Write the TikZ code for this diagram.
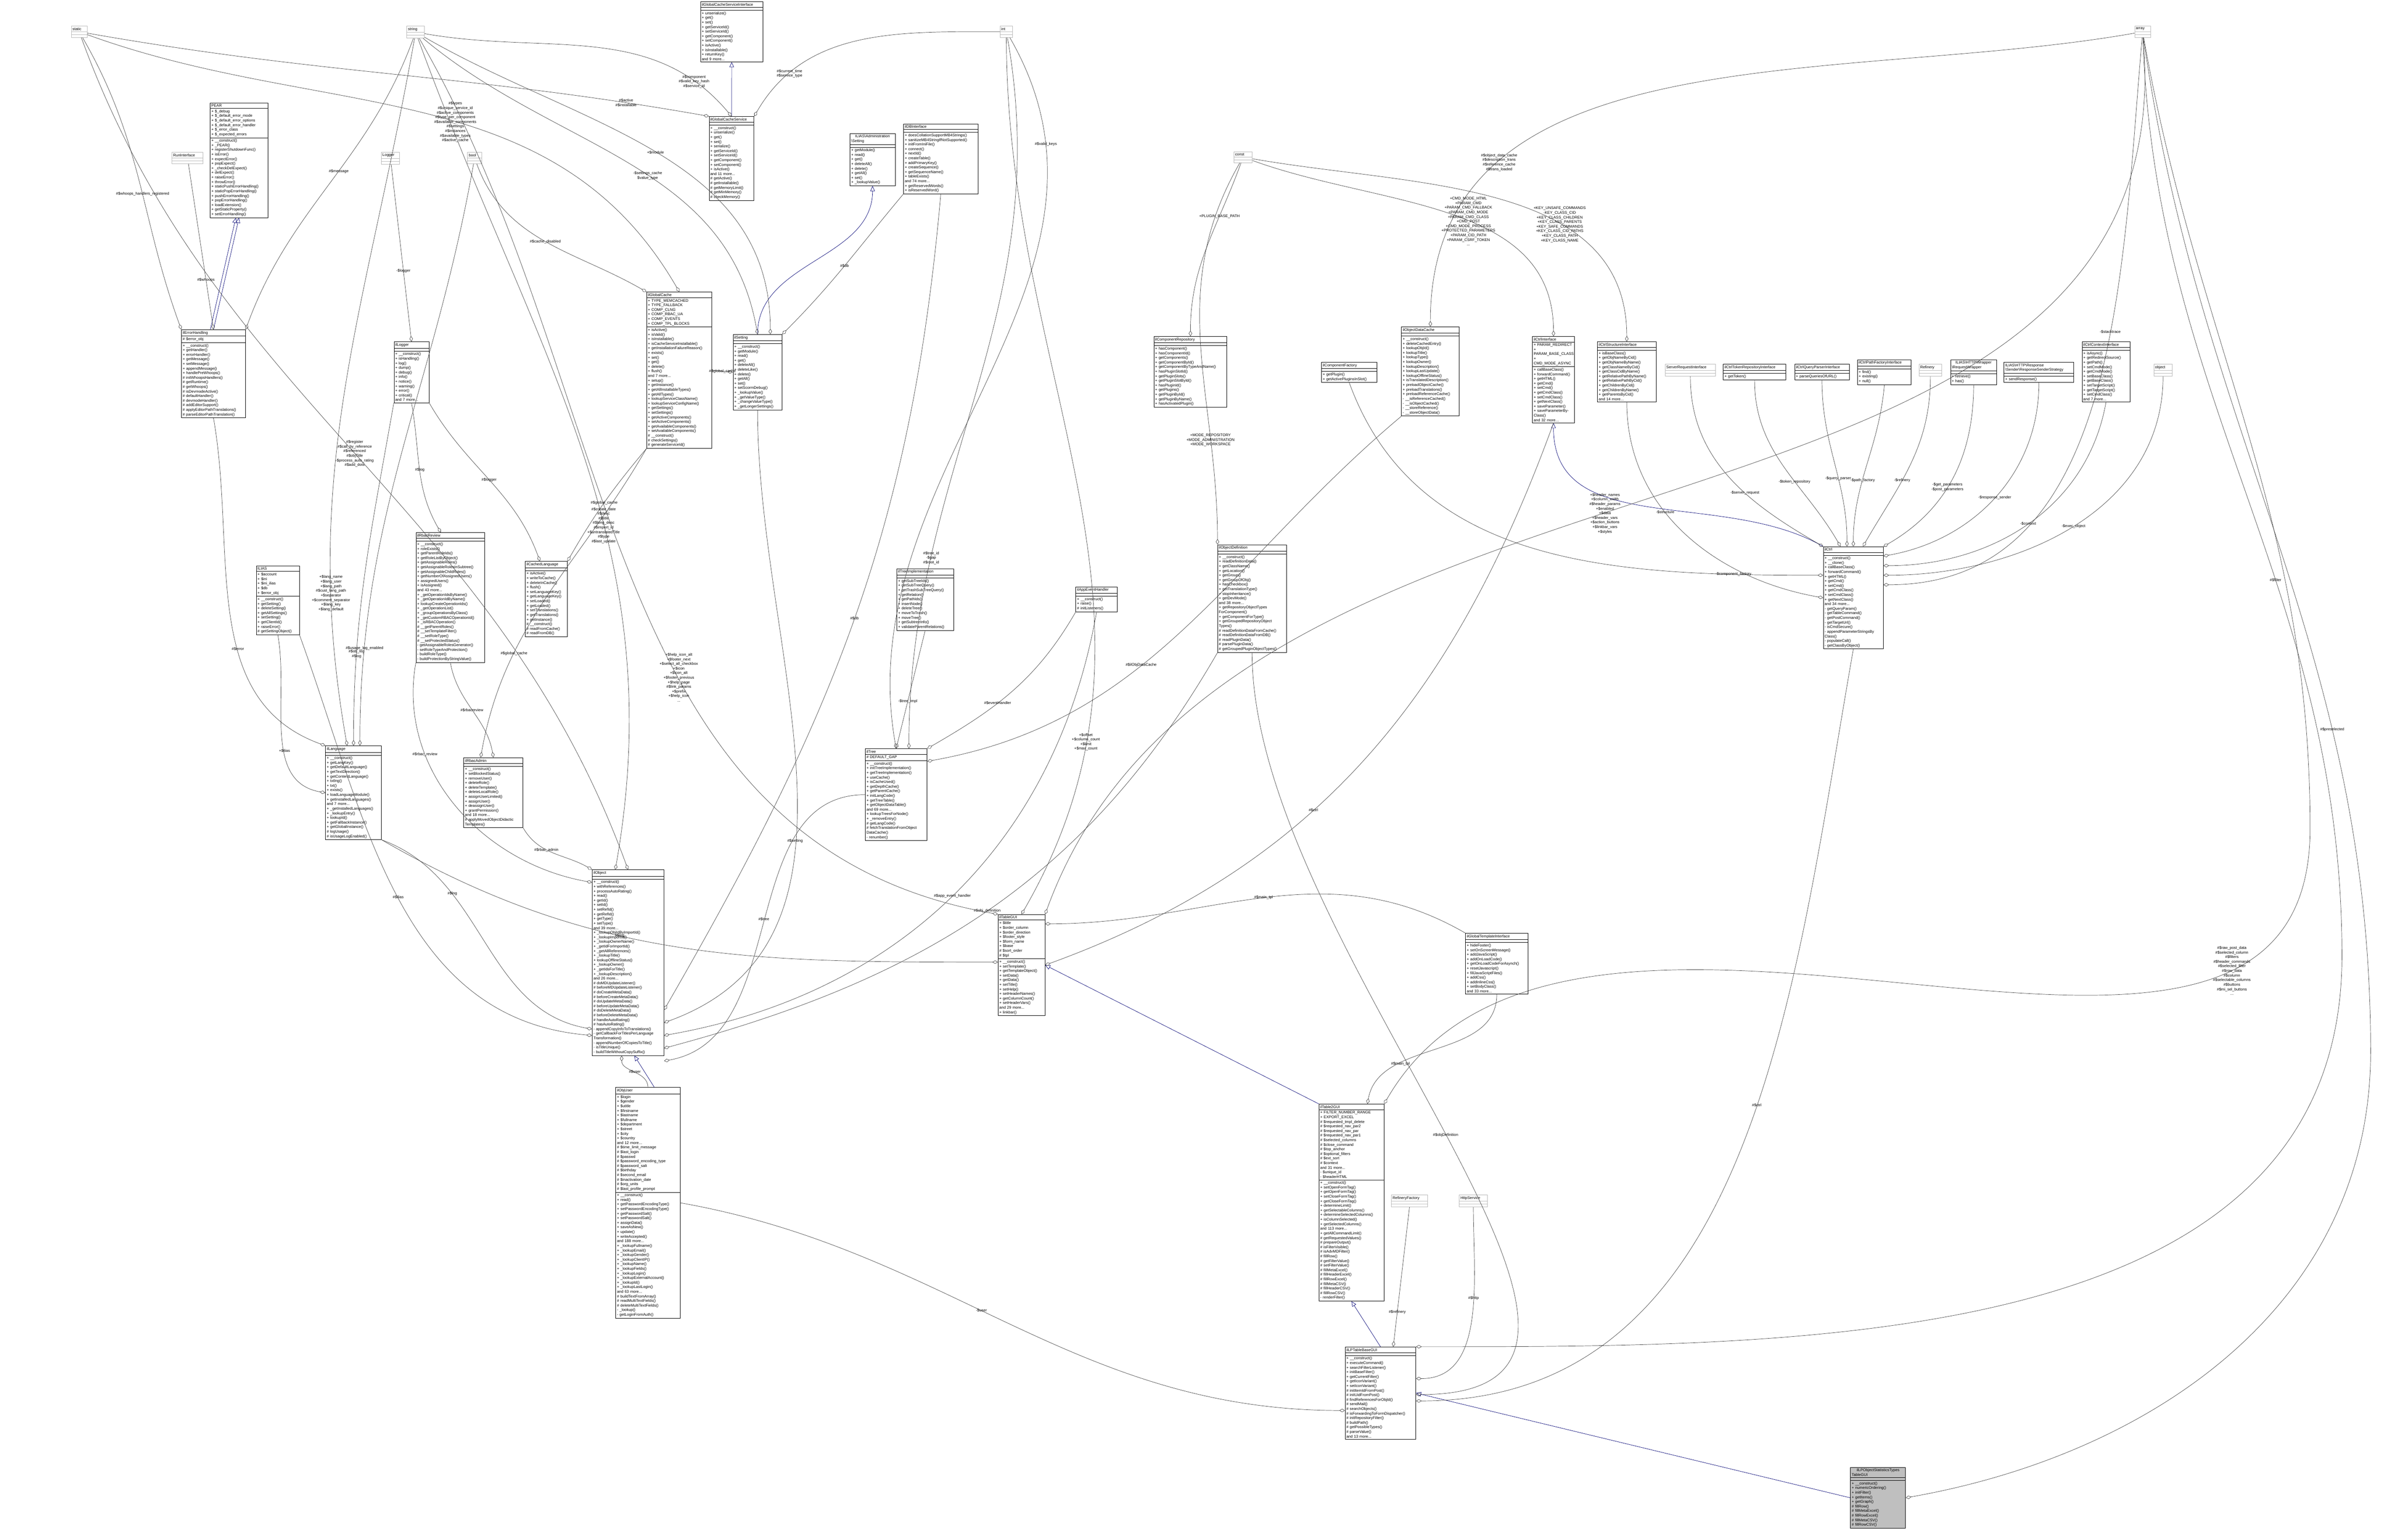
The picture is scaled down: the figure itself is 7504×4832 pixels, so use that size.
\documentclass[tikz,border=0pt]{standalone}
\usepackage{fontspec}
\setmainfont{Liberation Sans}
\usetikzlibrary{arrows.meta, shapes.multipart}

\tikzset{
  cls/.style={rectangle split, rectangle split parts=3, draw, anchor=north west,
    inner sep=1.1pt, align=left, fill=white, line width=0.35pt,
    rectangle split empty part height=5pt,
    font=\fontsize{3.4}{4.1}\selectfont},
  ext/.style={cls, draw=gray!55},
  self/.style={cls, fill=gray!50},
  agg/.style={draw=black!75, line width=0.3pt, -{Diamond[open,length=5pt,width=3pt]}},
  inh/.style={draw=blue!45!black, line width=0.3pt, -{Triangle[open,length=4.5pt,width=4pt]}},
  lbl/.style={font=\fontsize{3.4}{4.1}\selectfont, align=center, inner sep=0.5pt}
}

\begin{document}
\begin{tikzpicture}[x=0.01cm, y=-0.01cm]
\useasboundingbox (0,0) rectangle (7504,4832);

% plain types on the top row
\node[ext, text width=0.42cm] (tStatic) at (223,81)  {\centering static \nodepart{two} \nodepart{three}};
\node[ext, text width=0.48cm] (tString) at (1276,81) {\centering string \nodepart{two} \nodepart{three}};
\node[ext, text width=0.32cm] (tInt)    at (3138,81) {\centering int \nodepart{two} \nodepart{three}};
\node[ext, text width=0.42cm] (tArray)  at (6699,81) {\centering array \nodepart{two} \nodepart{three}};
\node[ext, text width=0.50cm] (tConst)  at (3872,475) {\centering const \nodepart{two} \nodepart{three}};
\node[ext, text width=0.36cm] (tBool)   at (1467,477) {\centering bool \nodepart{two} \nodepart{three}};
\node[ext, text width=0.50cm] (tLogger) at (1196,477) {\centering Logger \nodepart{two} \nodepart{three}};
\node[ext, text width=0.90cm] (tRun)    at (539,477)  {\centering RunInterface \nodepart{two} \nodepart{three}};
\node[ext, text width=0.50cm] (tObject) at (6759,1142) {\centering object \nodepart{two} \nodepart{three}};
\coordinate (viaRight) at (7250,2600);

% cache and settings
\node[cls, text width=1.88cm] (cacheIf) at (2198,5) {\centering ilGlobalCacheServiceInterface \nodepart{two} \nodepart{three}
+ unserialize()\\+ get()\\+ set()\\+ getServiceId()\\+ setServiceId()\\+ getComponent()\\+ setComponent()\\+ isActive()\\+ isInstallable()\\+ returnKey()\\and 9 more...};
\node[cls, text width=1.33cm] (cacheSvc) at (2225,365) {\centering ilGlobalCacheService \nodepart{two} \nodepart{three}
+ \_\_construct()\\+ unserialize()\\+ get()\\+ set()\\+ serialize()\\+ getServiceId()\\+ setServiceId()\\+ getComponent()\\+ setComponent()\\+ isActive()\\and 11 more...\\\# getActive()\\\# getInstallable()\\\# getMemoryLimit()\\\# getMinMemory()\\\# checkMemory()};
\node[cls, text width=1.73cm] (pear) at (659,322) {\centering PEAR \nodepart{two}
+ \$\_debug\\+ \$\_default\_error\_mode\\+ \$\_default\_error\_options\\+ \$\_default\_error\_handler\\+ \$\_error\_class\\+ \$\_expected\_errors
\nodepart{three} + \_\_construct()\\+ \_PEAR()\\+ registerShutdownFunc()\\+ isError()\\+ expectError()\\+ popExpect()\\+ \_checkDelExpect()\\+ delExpect()\\+ raiseError()\\+ throwError()\\+ staticPushErrorHandling()\\+ staticPopErrorHandling()\\+ pushErrorHandling()\\+ popErrorHandling()\\+ loadExtension()\\+ getStaticProperty()\\+ setErrorHandling()};
\node[cls, text width=1.93cm] (errHandling) at (569,1034) {\centering ilErrorHandling \nodepart{two} \# \$error\_obj
\nodepart{three} + \_\_construct()\\+ getHandler()\\+ errorHandler()\\+ getMessage()\\+ setMessage()\\+ appendMessage()\\+ handlePreWhoops()\\\# initWhoopsHandlers()\\\# getRuntime()\\\# getWhoops()\\\# isDevmodeActive()\\\# defaultHandler()\\\# devmodeHandler()\\\# addEditorSupport()\\\# applyEditorPathTranslations()\\\# parseEditorPathTranslation()};
\node[cls, text width=1.02cm] (logger) at (1236,1072) {\centering ilLogger \nodepart{two} \nodepart{three}
+ \_\_construct()\\+ isHandling()\\+ log()\\+ dump()\\+ debug()\\+ info()\\+ notice()\\+ warning()\\+ error()\\+ critical()\\and 7 more...};
\node[cls, text width=1.97cm] (globalCache) at (2029,916) {\centering ilGlobalCache \nodepart{two}
+ TYPE\_MEMCACHED\\+ TYPE\_FALLBACK\\+ COMP\_CLNG\\+ COMP\_RBAC\_UA\\+ COMP\_EVENTS\\+ COMP\_TPL\_BLOCKS
\nodepart{three} + isActive()\\+ isValid()\\+ isInstallable()\\+ isCacheServiceInstallable()\\+ getInstallationFailureReason()\\+ exists()\\+ set()\\+ get()\\+ delete()\\+ flush()\\and 7 more...\\+ setup()\\+ getInstance()\\+ getAllInstallableTypes()\\+ getAllTypes()\\+ lookupServiceClassName()\\+ lookupServiceConfigName()\\+ getSettings()\\+ setSettings()\\+ getActiveComponents()\\+ setActiveComponents()\\+ getAvailableComponents()\\+ setAvailableComponents()\\\# \_\_construct()\\\# checkSettings()\\\# generateServiceId()};
\node[cls, text width=1.46cm] (setting) at (2300,1049) {\centering ilSetting \nodepart{two} \nodepart{three}
+ \_\_construct()\\+ getModule()\\+ read()\\+ get()\\+ deleteAll()\\+ deleteLike()\\+ delete()\\+ getAll()\\+ set()\\+ setScormDebug()\\+ \_lookupValue()\\+ \_getValueType()\\+ \_changeValueType()\\+ \_getLongerSettings()};
\node[cls, text width=1.34cm] (admSetting) at (2667,418) {\centering ILIAS\textbackslash Administration\\\centering\textbackslash Setting \nodepart{two} \nodepart{three}
+ getModule()\\+ read()\\+ get()\\+ deleteAll()\\+ delete()\\+ getAll()\\+ set()\\+ \_lookupValue()};
\node[cls, text width=2.26cm] (dbIf) at (2835,388) {\centering ilDBInterface \nodepart{two} \nodepart{three}
+ doesCollationSupportMB4Strings()\\+ sanitizeMB4StringIfNotSupported()\\+ initFromIniFile()\\+ connect()\\+ nextId()\\+ createTable()\\+ addPrimaryKey()\\+ createSequence()\\+ getSequenceName()\\+ tableExists()\\and 74 more...\\+ getReservedWords()\\+ isReservedWord()};

% components and ctrl
\node[cls, text width=2.21cm] (compRepo) at (3621,1055) {\centering ilComponentRepository \nodepart{two} \nodepart{three}
+ hasComponent()\\+ hasComponentId()\\+ getComponents()\\+ getComponentById()\\+ getComponentByTypeAndName()\\+ hasPluginSlotId()\\+ getPluginSlots()\\+ getPluginSlotById()\\+ hasPluginId()\\+ getPlugins()\\+ getPluginById()\\+ getPluginByName()\\+ hasActivatedPlugin()};
\node[cls, text width=1.66cm] (compFactory) at (4147,1136) {\centering ilComponentFactory \nodepart{two} \nodepart{three}
+ getPlugin()\\+ getActivePluginsInSlot()};
\node[cls, text width=1.73cm] (objDataCache) at (4398,1025) {\centering ilObjectDataCache \nodepart{two} \nodepart{three}
+ \_\_construct()\\+ deleteCachedEntry()\\+ lookupObjId()\\+ lookupTitle()\\+ lookupType()\\+ lookupOwner()\\+ lookupDescription()\\+ lookupLastUpdate()\\+ lookupOfflineStatus()\\+ isTranslatedDescription()\\+ preloadObjectCache()\\+ preloadTranslations()\\+ preloadReferenceCache()\\- \_\_isReferenceCached()\\- \_\_isObjectCached()\\- \_\_storeReference()\\- \_\_storeObjectData()};
\node[cls, text width=1.24cm] (ctrlIf) at (4809,1055) {\centering ilCtrlInterface \nodepart{two}
+ PARAM\_REDIRECT\\+ PARAM\_BASE\_CLASS\\+ CMD\_MODE\_ASYNC
\nodepart{three} + callBaseClass()\\+ forwardCommand()\\+ getHTML()\\+ getCmd()\\+ setCmd()\\+ getCmdClass()\\+ setCmdClass()\\+ getNextClass()\\+ saveParameter()\\+ saveParameterByClass()\\and 32 more...};
\node[cls, text width=1.76cm] (ctrlStruct) at (5013,1072) {\centering ilCtrlStructureInterface \nodepart{two} \nodepart{three}
+ isBaseClass()\\+ getObjNameByCid()\\+ getObjNameByName()\\+ getClassNameByCid()\\+ getClassCidByName()\\+ getRelativePathByName()\\+ getRelativePathByCid()\\+ getChildrenByCid()\\+ getChildrenByName()\\+ getParentsByCid()\\and 14 more...};
\node[ext, text width=1.51cm] (srvRequest) at (5225,1142) {\centering ServerRequestInterface \nodepart{two} \nodepart{three}};
\node[cls, text width=1.88cm] (tokenRepo) at (5408,1142) {\centering ilCtrlTokenRepositoryInterface \nodepart{two} \nodepart{three} + getToken()};
\node[cls, text width=1.63cm] (queryParser) at (5632,1142) {\centering ilCtrlQueryParserInterface \nodepart{two} \nodepart{three} + parseQueriesOfURL()};
\node[cls, text width=1.61cm] (pathFactory) at (5829,1128) {\centering ilCtrlPathFactoryInterface \nodepart{two} \nodepart{three} + find()\\+ existing()\\+ null()};
\node[ext, text width=0.64cm] (refinery) at (6022,1142) {\centering Refinery \nodepart{two} \nodepart{three}};
\node[cls, text width=1.37cm] (reqWrapper) at (6121,1128) {\centering ILIAS\textbackslash HTTP\textbackslash Wrapper\\\centering\textbackslash RequestWrapper \nodepart{two} \nodepart{three} + retrieve()\\+ has()};
\node[cls, text width=2.11cm] (respSender) at (6289,1136) {ILIAS\textbackslash HTTP\textbackslash Response\\\textbackslash Sender\textbackslash ResponseSenderStrategy \nodepart{two} \nodepart{three} + sendResponse()};
\node[cls, text width=1.42cm] (ctrlContext) at (6534,1072) {\centering ilCtrlContextInterface \nodepart{two} \nodepart{three}
+ isAsync()\\+ getRedirectSource()\\+ getPath()\\+ setCmdMode()\\+ getCmdMode()\\+ setBaseClass()\\+ getBaseClass()\\+ setTargetScript()\\+ getTargetScript()\\+ setCmdClass()\\and 7 more...};
\node[cls, text width=1.80cm] (ctrl) at (5722,1715) {\centering ilCtrl \nodepart{two} \nodepart{three}
+ \_\_construct()\\+ \_\_clone()\\+ callBaseClass()\\+ forwardCommand()\\+ getHTML()\\+ getCmd()\\+ setCmd()\\+ getCmdClass()\\+ setCmdClass()\\+ getNextClass()\\and 34 more...\\- getQueryParam()\\- getTableCommand()\\- getPostCommand()\\- getTargetUrl()\\- isCmdSecure()\\- appendParameterStringsBy\\Class()\\- populateCall()\\- getClassByObject()};

% rbac, language and objects
\node[cls, text width=2.08cm] (rbacReview) at (1305,1671) {\centering ilRbacReview \nodepart{two} \nodepart{three}
+ \_\_construct()\\+ roleExists()\\+ getParentRoleIds()\\+ getRoleListByObject()\\+ getAssignableRoles()\\+ getAssignableRolesInSubtree()\\+ getAssignableChildRoles()\\+ getNumberOfAssignedUsers()\\+ assignedUsers()\\+ isAssigned()\\and 43 more...\\+ \_getOperationIdsByName()\\+ \_getOperationIdByName()\\+ lookupCreateOperationIds()\\+ \_getOperationList()\\+ \_groupOperationsByClass()\\+ \_getCustomRBACOperationId()\\+ \_isRBACOperation()\\\# \_\_getParentRoles()\\\# \_\_setTemplateFilter()\\\# \_\_setRoleType()\\\# \_\_setProtectedStatus()\\- getAssignableRolesGenerator()\\- setRoleTypeAndProtection()\\- buildRoleType()\\- buildProtectionByStringValue()};
\node[cls, text width=1.27cm] (ias) at (804,1775) {\centering ILIAS \nodepart{two}
+ \$account\\+ \$ini\\+ \$ini\_ilias\\+ \$db\\+ \$error\_obj
\nodepart{three} + \_\_construct()\\+ getSetting()\\+ deleteSetting()\\+ getAllSettings()\\+ setSetting()\\+ getClientId()\\+ raiseError()\\\# getSettingObject()};
\node[cls, text width=1.24cm] (cachedLang) at (1648,1761) {\centering ilCachedLanguage \nodepart{two} \nodepart{three}
+ isActive()\\+ writeToCache()\\+ deleteInCache()\\+ flush()\\+ setLanguageKey()\\+ getLanguageKey()\\+ setLoaded()\\+ getLoaded()\\+ setTranslations()\\+ getTranslations()\\+ getInstance()\\\# \_\_construct()\\\# readFromCache()\\\# readFromDB()};
\node[cls, text width=1.68cm] (language) at (1021,2340) {\centering ilLanguage \nodepart{two} \nodepart{three}
+ \_\_construct()\\+ getLangKey()\\+ getDefaultLanguage()\\+ getTextDirection()\\+ getContentLanguage()\\+ txtlng()\\+ txt()\\+ exists()\\+ loadLanguageModule()\\+ getInstalledLanguages()\\and 7 more...\\+ \_getInstalledLanguages()\\+ \_lookupEntry()\\+ lookupId()\\+ getFallbackInstance()\\+ getGlobalInstance()\\\# logUsage()\\\# isUsageLogEnabled()};
\node[cls, text width=1.78cm] (rbacAdmin) at (1455,2377) {\centering ilRbacAdmin \nodepart{two} \nodepart{three}
+ \_\_construct()\\+ setBlockedStatus()\\+ removeUser()\\+ deleteRole()\\+ deleteTemplate()\\+ deleteLocalRole()\\+ assignUserLimited()\\+ assignUser()\\+ deassignUser()\\+ grantPermission()\\and 18 more...\\\# applyMovedObjectDidactic\\Templates()};
\node[cls, text width=2.17cm] (object) at (1858,2729) {\centering ilObject \nodepart{two} \nodepart{three}
+ \_\_construct()\\+ withReferences()\\+ processAutoRating()\\+ read()\\+ getId()\\+ setId()\\+ setRefId()\\+ getRefId()\\+ getType()\\+ setType()\\and 39 more...\\+ \_lookupObjIdByImportId()\\+ \_lookupImportId()\\+ \_lookupOwnerName()\\+ \_getIdForImportId()\\+ \_getAllReferences()\\+ \_lookupTitle()\\+ lookupOfflineStatus()\\+ \_lookupOwner()\\+ \_getIdsForTitle()\\+ \_lookupDescription()\\and 26 more...\\\# doMDUpdateListener()\\\# beforeMDUpdateListener()\\\# doCreateMetaData()\\\# beforeCreateMetaData()\\\# doUpdateMetaData()\\\# beforeUpdateMetaData()\\\# doDeleteMetaData()\\\# beforeDeleteMetaData()\\\# handleAutoRating()\\\# hasAutoRating()\\- appendCopyInfoToTranslations()\\- getCallbackForTitlesPerLanguage\\Transformation()\\- appendNumberOfCopiesToTitle()\\- isTitleUnique()\\- buildTitleWithoutCopySuffix()};
\node[cls, text width=1.70cm] (treeImpl) at (2814,1784) {\centering ilTreeImplementation \nodepart{two} \nodepart{three}
+ getSubTreeIds()\\+ getSubTreeQuery()\\+ getTrashSubTreeQuery()\\+ getRelation()\\+ getPathIds()\\+ insertNode()\\+ deleteTree()\\+ moveToTrash()\\+ moveTree()\\+ getSubtreeInfo()\\+ validateParentRelations()};
\node[cls, text width=1.22cm] (eventHandler) at (3376,1841) {\centering ilAppEventHandler \nodepart{two} \nodepart{three}
+ \_\_construct()\\+ raise()\\\# initListeners()};
\node[cls, text width=2.08cm] (objDef) at (3821,1709) {\centering ilObjectDefinition \nodepart{two} \nodepart{three}
+ \_\_construct()\\+ readDefinitionData()\\+ getClassName()\\+ getLocation()\\+ getGroup()\\+ getGroupOfObj()\\+ hasCheckbox()\\+ getTranslationType()\\+ stopInheritance()\\+ getDevMode()\\and 38 more...\\+ getRepositoryObjectTypes\\ForComponent()\\+ getComponentForType()\\+ getGroupedRepositoryObject\\Types()\\\# readDefinitionDataFromCache()\\\# readDefinitionDataFromDB()\\\# readPluginData()\\\# parsePluginData()\\\# getGroupedPluginObjectTypes()};
\node[cls, text width=1.86cm] (tree) at (2715,2349) {\centering ilTree \nodepart{two} \# DEFAULT\_GAP
\nodepart{three} + \_\_construct()\\+ initTreeImplementation()\\+ getTreeImplementation()\\+ useCache()\\+ isCacheUsed()\\+ getDepthCache()\\+ getParentCache()\\+ initLangCode()\\+ getTreeTable()\\+ getObjectDataTable()\\and 69 more...\\+ lookupTreesForNode()\\+ \_removeEntry()\\\# getLangCode()\\\# fetchTranslationFromObject\\DataCache()\\- renumber()};
\node[cls, text width=1.39cm] (tableGui) at (3132,2869) {\centering ilTableGUI \nodepart{two}
+ \$title\\+ \$order\_column\\+ \$order\_direction\\+ \$footer\_style\\+ \$form\_name\\+ \$base\\\# \$sort\_order\\\# \$tpl
\nodepart{three} + \_\_construct()\\+ setTemplate()\\+ getTemplateObject()\\+ setData()\\+ getData()\\+ setTitle()\\+ setHelp()\\+ setHeaderNames()\\+ getColumnCount()\\+ setHeaderVars()\\and 29 more...\\+ linkbar()};
\node[cls, text width=1.88cm] (tplIf) at (4599,2928) {\centering ilGlobalTemplateInterface \nodepart{two} \nodepart{three}
+ hideFooter()\\+ setOnScreenMessage()\\+ addJavaScript()\\+ addOnLoadCode()\\+ getOnLoadCodeForAsynch()\\+ resetJavascript()\\+ fillJavaScriptFiles()\\+ addCss()\\+ addInlineCss()\\+ setBodyClass()\\and 33 more...};

% lower half
\node[cls, text width=1.94cm] (objUser) at (1932,3412) {\centering ilObjUser \nodepart{two}
+ \$login\\+ \$gender\\+ \$utitle\\+ \$firstname\\+ \$lastname\\+ \$fullname\\+ \$department\\+ \$street\\+ \$city\\+ \$country\\and 12 more...\\\# \$time\_limit\_message\\\# \$last\_login\\\# \$passwd\\\# \$password\_encoding\_type\\\# \$password\_salt\\\# \$birthday\\\# \$second\_email\\\# \$inactivation\_date\\\# \$org\_units\\\# \$last\_profile\_prompt
\nodepart{three} + \_\_construct()\\+ read()\\+ getPasswordEncodingType()\\+ setPasswordEncodingType()\\+ getPasswordSalt()\\+ setPasswordSalt()\\+ assignData()\\+ saveAsNew()\\+ update()\\+ writeAccepted()\\and 188 more...\\+ \_lookupFullname()\\+ \_lookupEmail()\\+ \_lookupGender()\\+ \_lookupClientIP()\\+ \_lookupName()\\+ \_lookupFields()\\+ \_lookupLogin()\\+ \_lookupExternalAccount()\\+ \_lookupId()\\+ \_lookupLastLogin()\\and 63 more...\\\# buildTextFromArray()\\\# readMultiTextFields()\\\# deleteMultiTextFields()\\- \_lookup()\\- getLoginFromAuth()};
\node[cls, text width=1.96cm] (table2Gui) at (4139,3464) {\centering ilTable2GUI \nodepart{two}
+ FILTER\_NUMBER\_RANGE\\+ EXPORT\_EXCEL\\\# \$requested\_tmpl\_delete\\\# \$requested\_nav\_par2\\\# \$requested\_nav\_par\\\# \$requested\_nav\_par1\\\# \$selected\_columns\\\# \$close\_command\\\# \$top\_anchor\\\# \$optional\_filters\\\# \$ext\_sort\\\# \$context\\and 31 more...\\- \$unique\_id\\- \$headerHTML
\nodepart{three} + \_\_construct()\\+ setOpenFormTag()\\+ getOpenFormTag()\\+ setCloseFormTag()\\+ getCloseFormTag()\\+ determineLimit()\\+ getSelectableColumns()\\+ determineSelectedColumns()\\+ isColumnSelected()\\+ getSelectedColumns()\\and 113 more...\\+ getAllCommandLimit()\\\# getRequestedValues()\\\# prepareOutput()\\\# isFilterVisible()\\\# isAdvMDFilter()\\\# fillRow()\\\# getFilterValue()\\\# setFilterValue()\\\# fillMetaExcel()\\\# fillHeaderExcel()\\\# fillRowExcel()\\\# fillMetaCSV()\\\# fillHeaderCSV()\\\# fillRowCSV()\\- renderFilter()};
\node[ext, text width=1.06cm] (refFactory) at (4366,3749) {\centering RefineryFactory \nodepart{two} \nodepart{three}};
\node[ext, text width=0.81cm] (httpSvc) at (4579,3749) {\centering HttpService \nodepart{two} \nodepart{three}};
\node[cls, text width=2.14cm] (lpBase) at (4221,4226) {\centering ilLPTableBaseGUI \nodepart{two} \nodepart{three}
+ \_\_construct()\\+ executeCommand()\\+ searchFilterListener()\\+ initBaseFilter()\\+ getCurrentFilter()\\+ getIconVariant()\\+ setIconVariant()\\\# initItemIdFromPost()\\\# initUidFromPost()\\\# findReferencesForObjId()\\\# sendMail()\\\# searchObjects()\\\# isForwardingToFormDispatcher()\\\# initRepositoryFilter()\\\# buildPath()\\\# getPossibleTypes()\\\# parseValue()\\and 13 more...};
\node[self, text width=1.65cm] (lpTypes) at (5807,4604) {\centering ilLPObjectStatisticsTypes\\\centering TableGUI \nodepart{two} \nodepart{three}
+ \_\_construct()\\+ numericOrdering()\\+ initFilter()\\+ getItems()\\+ getGraph()\\\# fillRow()\\\# fillMetaExcel()\\\# fillRowExcel()\\\# fillMetaCSV()\\\# fillRowCSV()};

% inheritance
\draw[inh] (cacheSvc) -- (cacheIf);
\draw[inh] (errHandling.north) -- (pear.south);
\draw[inh] ([xshift=-0.1cm]errHandling.north) -- ([xshift=-0.1cm]pear.south);
\draw[inh] (setting.north) to[out=90, in=-90] (admSetting.south);
\draw[inh] (ctrl.north west) to[out=150, in=-90] (ctrlIf.south);
\draw[inh] ([xshift=0.2cm]objUser.north) -- ([xshift=0.2cm]object.south);
\draw[inh] (table2Gui.north west) -- (tableGui.east);
\draw[inh] (lpBase.north) -- (table2Gui.south);
\draw[inh] (lpTypes.west) -- (lpBase.east);

% members of the cache classes
\draw[agg] (tStatic) to[out=-10, in=170] node[lbl, pos=0.88]{\#\$active\\\#\$installable} (cacheSvc.north west);
\draw[agg] (tString) to[out=-10, in=130] node[lbl, pos=0.85]{\#\$component\\\#\$valid\_key\_hash\\\#\$service\_id} (cacheSvc.north);
\draw[agg] (tInt) to[out=180, in=60] node[lbl, pos=0.8]{\#\$current\_time\\\#\$service\_type} (cacheSvc.north east);
\draw[agg] (tStatic) to[out=-60, in=110] node[lbl, pos=0.55]{\#\$whoops\_handlers\_registered} (errHandling.north west);
\draw[agg] (tString) to[out=-110, in=70] node[lbl, pos=0.45]{\#\$message} (errHandling.north east);
\draw[agg] (tRun) -- node[lbl, pos=0.7]{\#\$whoops} (errHandling.north);
\draw[agg] (tLogger) -- node[lbl, pos=0.6]{-\$logger} (logger.north);
\draw[agg] (tStatic) to[out=-20, in=120] node[lbl, pos=0.55]{\#\$types\\\#\$unique\_service\_id\\\#\$active\_components\\\#\$type\_per\_component\\\#\$available\_components\\\#\$settings\\\#\$instances\\\#\$available\_types\\\#\$active\_cache} (globalCache.north);
\draw[agg] (tBool) to[out=-70, in=150] node[lbl, pos=0.5]{\#\$cache\_disabled} (globalCache.north west);
\draw[agg] (tString) to[out=-40, in=100] node[lbl, pos=0.55]{-\$settings\_cache\\\$value\_type} (setting.north);
\draw[agg] (globalCache.east) -- node[lbl, pos=0.5]{\#\$global\_cache} (setting.west);
\draw[agg] (tString) to[out=-30, in=90] node[lbl, pos=0.5]{+\$module} ([xshift=0.4cm]setting.north);
\draw[agg] (dbIf.south west) to[out=-130, in=45] node[lbl, pos=0.5]{\#\$db} (setting.north east);
\draw[agg] (tInt) to[out=-60, in=100] node[lbl, pos=0.15]{\#\$valid\_keys} (tree.north);

% members of the component and ctrl classes
\draw[agg] (tConst) to[out=-110, in=90] node[lbl, pos=0.3]{+PLUGIN\_BASE\_PATH} (compRepo.north);
\draw[agg] (tConst) to[out=-120, in=90] node[lbl, pos=0.75]{+MODE\_REPOSITORY\\+MODE\_ADMINISTRATION\\+MODE\_WORKSPACE} (objDef.north west);
\draw[agg] (tArray) to[out=190, in=90] node[lbl, pos=0.75]{\#\$object\_data\_cache\\\#\$description\_trans\\\#\$reference\_cache\\\#\$trans\_loaded} (objDataCache.north);
\draw[agg] (tConst) to[out=-20, in=90] node[lbl, pos=0.55]{+CMD\_MODE\_HTML\\+PARAM\_CMD\\+PARAM\_CMD\_FALLBACK\\+PARAM\_CMD\_MODE\\+PARAM\_CMD\_CLASS\\+CMD\_POST\\+CMD\_MODE\_PROCESS\\+PROTECTED\_PARAMETERS\\+PARAM\_CID\_PATH\\+PARAM\_CSRF\_TOKEN\\...} (ctrlIf.north);
\draw[agg] (tConst) to[out=-10, in=90] node[lbl, pos=0.65]{+KEY\_UNSAFE\_COMMANDS\\-KEY\_CLASS\_CID\\+KEY\_CLASS\_CHILDREN\\+KEY\_CLASS\_PARENTS\\+KEY\_SAFE\_COMMANDS\\+KEY\_CLASS\_CID\_PATHS\\+KEY\_CLASS\_PATH\\+KEY\_CLASS\_NAME} (ctrlStruct.north);
\draw[agg] (ctrlStruct.south) to[out=-90, in=170] node[lbl, pos=0.4]{-\$structure} (ctrl.west);
\draw[agg] (srvRequest.south) to[out=-90, in=150] node[lbl, pos=0.6]{-\$server\_request} (ctrl.north west);
\draw[agg] (tokenRepo.south) to[out=-90, in=120] node[lbl, pos=0.6]{-\$token\_repository} ([xshift=-0.4cm]ctrl.north);
\draw[agg] (queryParser.south) to[out=-90, in=90] node[lbl, pos=0.6]{-\$query\_parser} ([xshift=-0.2cm]ctrl.north);
\draw[agg] (pathFactory.south) to[out=-95, in=90] node[lbl, pos=0.6]{-\$path\_factory} (ctrl.north);
\draw[agg] (refinery.south) to[out=-90, in=60] node[lbl, pos=0.6]{-\$refinery} ([xshift=0.3cm]ctrl.north);
\draw[agg] (reqWrapper.south) to[out=-90, in=30] node[lbl, pos=0.55]{-\$get\_parameters\\-\$post\_parameters} (ctrl.north east);
\draw[agg] (respSender.south) to[out=-90, in=10] node[lbl, pos=0.5]{-\$response\_sender} ([yshift=-0.3cm]ctrl.north east);
\draw[agg] (ctrlContext.south) to[out=-100, in=0] node[lbl, pos=0.5]{-\$context} ([yshift=-0.6cm]ctrl.north east);
\draw[agg] (tObject.south) to[out=-90, in=0] node[lbl, pos=0.5]{-\$exec\_object} ([yshift=-0.9cm]ctrl.north east);
\draw[agg] (tArray) to[out=-95, in=0] node[lbl, pos=0.4]{-\$stacktrace} ([yshift=-1.2cm]ctrl.north east);
\draw[agg] (compFactory.south) to[out=-70, in=180] node[lbl, pos=0.85]{-\$component\_factory} ([yshift=-0.9cm]ctrl.north west);

% members of rbac, language and object classes
\draw[agg] (logger.south) to[out=-80, in=120] node[lbl, pos=0.5]{\#\$log} ([xshift=-0.3cm]rbacReview.north);
\draw[agg] (logger.south east) to[out=-60, in=110] node[lbl, pos=0.5]{\#\$logger} ([xshift=-0.2cm]cachedLang.north);
\draw[agg] (globalCache.south west) to[out=-130, in=60] node[lbl, pos=0.5]{\#\$global\_cache} (cachedLang.north east);
\draw[agg] (ias.south) to[out=-80, in=170] node[lbl, pos=0.6]{+\$ilias} (language.west);
\draw[agg] (logger.south west) to[out=-100, in=90] node[lbl, pos=0.75]{\#\$ob\_log\\\#\$log} (language.north);
\draw[agg] (errHandling.south) to[out=-80, in=160] node[lbl, pos=0.6]{\#\$error} (language.north west);
\draw[agg] (tString) to[out=-100, in=100] node[lbl, pos=0.8]{+\$lang\_name\\+\$lang\_user\\+\$lang\_path\\\#\$cust\_lang\_path\\+\$separator\\+\$comment\_separator\\+\$lang\_key\\+\$lang\_default} ([xshift=-0.2cm]language.north);
\draw[agg] (tBool) to[out=-100, in=90] node[lbl, pos=0.85]{\#\$usage\_log\_enabled} ([xshift=0.2cm]language.north);
\draw[agg] (rbacReview.south) to[out=-80, in=100] node[lbl, pos=0.5]{\#\$rbacreview} (rbacAdmin.north);
\draw[agg] (globalCache.south west) to[out=-120, in=80] node[lbl, pos=0.7]{\#\$global\_cache} ([xshift=-0.4cm]rbacAdmin.north);
\draw[agg] (rbacAdmin.south east) to[out=-60, in=150] node[lbl, pos=0.4]{\#\$rbac\_admin} (object.north west);
\draw[agg] (rbacReview.south west) to[out=-100, in=170] node[lbl, pos=0.3]{\#\$rbac\_review} ([yshift=-0.4cm]object.north west);
\draw[agg] (language.south east) to[out=-20, in=170] node[lbl, pos=0.3]{\#\$lng} ([yshift=-5cm]object.north west);
\draw[agg] (ias.south east) to[out=-70, in=175] node[lbl, pos=0.5]{\#\$ilias} ([yshift=-5.2cm]object.north west);
\draw[agg] (tStatic) to[out=-70, in=110] node[lbl, pos=0.5]{\#\$register\\\#\$call\_by\_reference\\\#\$referenced\\\#\$objTitle\\-\$process\_auto\_rating\\\#\$add\_dots} (object.north);
\draw[agg] (tString) to[out=-70, in=80] node[lbl, pos=0.6]{\#\$create\_date\\\#\$desc\\\#\$title\\\#\$long\_desc\\\#\$import\_id\\+\$untranslatedTitle\\\#\$type\\\#\$last\_update} ([xshift=-0.4cm]object.north);
\draw[agg] (treeImpl.south) -- node[lbl, pos=0.6]{-\$tree\_impl} (tree.north);
\draw[agg] (eventHandler.south west) to[out=-120, in=30] node[lbl, pos=0.6]{\#\$eventHandler} (tree.north east);
\draw[agg] (eventHandler.south) to[out=-100, in=10] node[lbl, pos=0.5]{\#\$app\_event\_handler} ([yshift=-5.2cm]object.north east);
\draw[agg] (objDef.south west) to[out=-120, in=15] node[lbl, pos=0.5]{\#\$obj\_definition} ([yshift=-5.6cm]object.north east);
\draw[agg] (tree.west) to[out=180, in=10] node[lbl, pos=0.5]{\#\$tree} ([yshift=-6cm]object.north east);
\draw[agg] (setting.south) to[out=-90, in=20] node[lbl, pos=0.6]{\#\$setting} ([yshift=-4.8cm]object.north east);
\draw[agg] (dbIf.south) to[out=-95, in=60] node[lbl, pos=0.5]{\#\$db} ([yshift=-4.4cm]object.north east);
\draw[agg] (tInt) to[out=-80, in=90] node[lbl, pos=0.75]{\#\$tree\_id\\-\$gap\\\#\$root\_id} ([xshift=0.4cm]tree.north);
\draw[agg] (objDataCache.south west) to[out=-140, in=10] node[lbl, pos=0.6]{\#\$ilObjDataCache} ([yshift=-0.4cm]tree.north east);

% members of the table classes
\draw[agg] (language.south east) to[out=-30, in=180] node[lbl, pos=0.4]{\#\$lng} ([yshift=-1.5cm]tableGui.north west);
\draw[agg] (tString) to[out=-60, in=170] node[lbl, pos=0.6]{+\$help\_icon\_alt\\+\$footer\_next\\+\$select\_all\_checkbox\\+\$icon\\+\$icon\_alt\\+\$footer\_previous\\+\$help\_page\\\#\$link\_params\\+\$prefix\\+\$help\_icon\\...} (tableGui.north west);
\draw[agg] (tInt) to[out=-90, in=60] node[lbl, pos=0.8]{+\$offset\\+\$column\_count\\+\$limit\\+\$max\_count} (tableGui.north);
\draw[agg] (ctrlIf.south) to[out=-110, in=20] node[lbl, pos=0.6]{\#\$ctrl} (tableGui.east);
\draw[agg] (tplIf.north west) to[out=150, in=0] node[lbl, pos=0.5]{\#\$main\_tpl} ([yshift=-0.3cm]tableGui.north east);
\draw[agg] (tplIf.south) to[out=-90, in=80] node[lbl, pos=0.7]{\#\$main\_tpl} ([xshift=0.5cm]table2Gui.north);
\draw[agg] (tArray) to[out=-80, in=90] (viaRight) to[out=-90, in=60] node[lbl, pos=0.2]{\#\$raw\_post\_data\\\#\$selected\_column\\\#\$filters\\\#\$header\_commands\\\#\$selected\_filter\\\#\$row\_data\\\#\$column\\\#\$selectable\_columns\\\#\$buttons\\\#\$mi\_sel\_buttons\\...} (table2Gui.north east);
\draw[agg] (tArray) to[out=-85, in=70] node[lbl, pos=0.55]{+\$header\_names\\+\$column\_width\\\#\$header\_params\\+\$enabled\\+\$data\\+\$header\_vars\\+\$action\_buttons\\+\$linkbar\_vars\\+\$styles} (tableGui.north east);
\draw[agg] (objUser.east) to[out=-10, in=180] node[lbl, pos=0.45]{-\$user} ([yshift=-2cm]lpBase.north west);
\draw[agg] (objUser.north) to[out=90, in=-90] node[lbl, pos=0.5]{\#\$user} ([xshift=-0.2cm]object.south);
\draw[agg] (refFactory.south) -- node[lbl, pos=0.75]{\#\$refinery} ([xshift=0.4cm]lpBase.north);
\draw[agg] (httpSvc.south) to[out=-90, in=0] node[lbl, pos=0.4]{\#\$http} ([yshift=-1cm]lpBase.north east);
\draw[agg] (objDef.south) to[out=-90, in=0] node[lbl, pos=0.5]{\#\$objDefinition} ([yshift=-1.5cm]lpBase.north east);
\draw[agg] (ctrl.south) to[out=-100, in=0] node[lbl, pos=0.45]{\#\$ctrl} ([yshift=-1.7cm]lpBase.north east);
\draw[agg] (tArray) to[out=-88, in=90] node[lbl, pos=0.6]{\#\$filter} (7350,3000) to[out=-90, in=0] (lpBase.north east);
\draw[agg] (tArray) to[out=-82, in=90] node[lbl, pos=0.7]{\#\$preselected} (7440,3300) to[out=-90, in=10] (lpTypes.east);
\end{tikzpicture}
\end{document}
